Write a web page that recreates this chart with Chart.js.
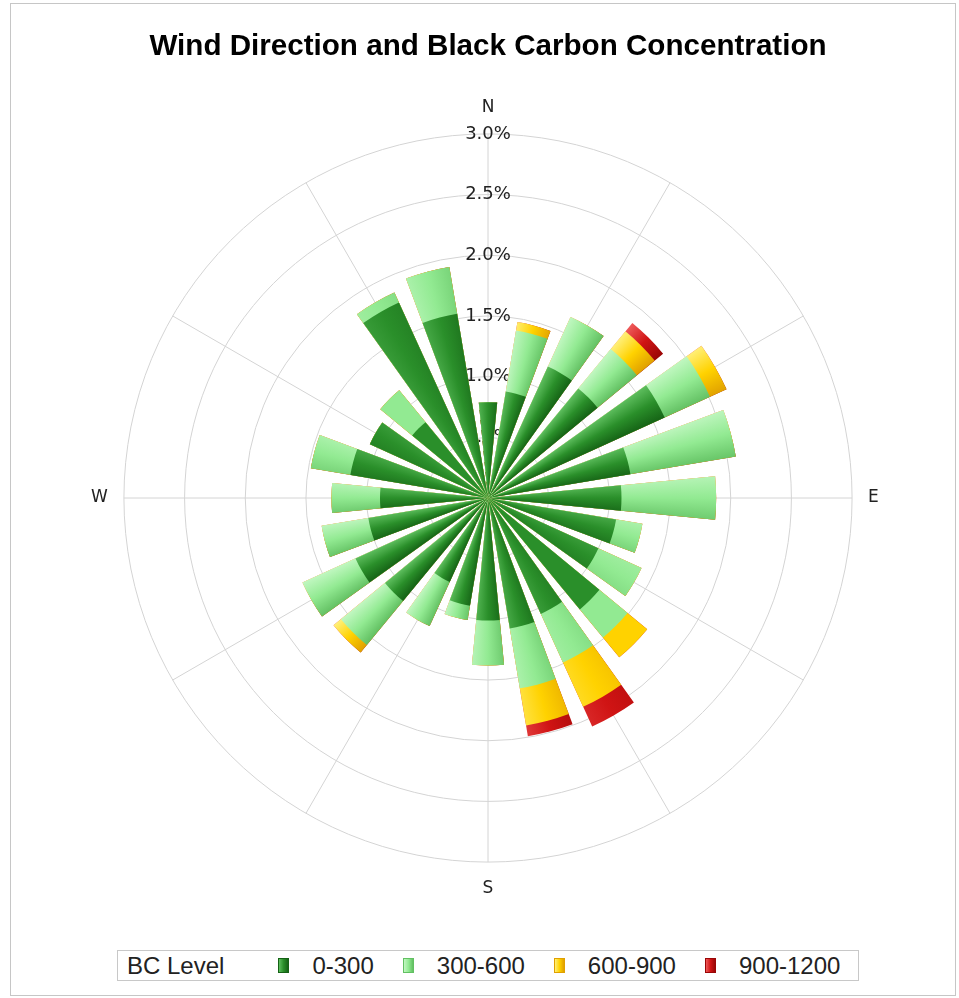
<!DOCTYPE html>
<html>
<head>
<meta charset="utf-8">
<title>Wind Direction and Black Carbon Concentration</title>
<script src="https://cdn.jsdelivr.net/npm/chart.js@4.4.1/dist/chart.umd.min.js"></script>
<style>
    html, body { margin: 0; padding: 0; background: #fff; }
    #wrap { position: relative; width: 959px; height: 998px; }
    #frame {
        position: absolute; left: 10px; top: 3px; width: 946px; height: 993px;
        box-sizing: border-box; border: 1px solid #c6c6c6; pointer-events: none;
    }
    #legend {
        position: absolute; left: 117px; top: 950px; height: 31px; box-sizing: border-box;
        display: flex; align-items: center; padding: 0 18px 0 9px;
        border: 1px solid #c8c8c8; background: #fff;
        font: 24px "Liberation Sans", Arial, sans-serif; color: #222; white-space: nowrap;
    }
    #legend .title { margin-right: 54px; }
    #legend .item { display: flex; align-items: center; margin-right: 29px; }
    #legend .item:last-child { margin-right: 0; }
    #legend .swatch { width: 11px; height: 15px; box-sizing: border-box; margin-right: 23px; border: 1px solid; }
</style>
</head>
<body>
<div id="wrap">
    <canvas id="windRose" width="959" height="998"></canvas>
    <div id="legend"></div>
    <div id="frame"></div>
</div>
<script>
/**
 * Wind directions (degrees clockwise from north), 15 degree sectors
 */
const directions = [0, 15, 30, 45, 60, 75, 90, 105, 120, 135, 150, 165,
                    180, 195, 210, 225, 240, 255, 270, 285, 300, 315, 330, 345];

/**
 * BC levels
 */
const levels = ['0-300', '300-600', '600-900', '900-1200'];

/**
 * Frequency (%) by direction, one array per BC level
 */
const bc0to300    = [0.79, 0.89, 1.19, 1.17, 1.60, 1.19, 1.10, 1.07, 1.00, 1.19, 1.05, 1.09,
                     1.01, 0.90, 0.76, 1.10, 1.20, 1.00, 0.89, 1.15, 1.07, 0.81, 1.77, 1.54];
const bc300to600  = [0.00, 0.51, 0.45, 0.42, 0.41, 0.88, 0.78, 0.22, 0.39, 0.30, 0.44, 0.50,
                     0.37, 0.12, 0.40, 0.47, 0.48, 0.39, 0.40, 0.33, 0.00, 0.34, 0.09, 0.39];
const bc600to900  = [0.00, 0.07, 0.00, 0.19, 0.15, 0.00, 0.00, 0.00, 0.00, 0.21, 0.40, 0.31,
                     0.00, 0.00, 0.00, 0.08, 0.00, 0.00, 0.00, 0.00, 0.00, 0.00, 0.00, 0.00];
const bc900to1200 = [0.00, 0.00, 0.00, 0.09, 0.00, 0.00, 0.00, 0.00, 0.00, 0.00, 0.18, 0.09,
                     0.00, 0.00, 0.00, 0.00, 0.00, 0.00, 0.00, 0.00, 0.00, 0.00, 0.00, 0.00];

/**
 * Radial ticks (%)
 */
const rTicks = [0, 0.5, 1.0, 1.5, 2.0, 2.5, 3.0];

/**
 * Spoke labels (every 30 degrees)
 */
const spokeLabels = ['N', '', '', 'E', '', '', 'S', '', '', 'W', '', ''];

/**
 * Colours per level
 */
const levelShades = [
    { base: '#2a8f2a', light: '#5fbf5f', dark: '#156215' },
    { base: '#92ea92', light: '#c2f7c2', dark: '#62c062' },
    { base: '#ffd200', light: '#fff07a', dark: '#e0a000' },
    { base: '#d01414', light: '#ee5a5a', dark: '#9a0606' }
];

const BAR = 11;              // bar width in degrees
const GAP = 15 - BAR;        // gap between bars

const levelValues = [bc0to300, bc300to600, bc600to900, bc900to1200];

// stack the levels: each dataset is drawn from the centre to its cumulative value
const stacked = levelValues.map((_, i) =>
    directions.map((d, k) => levelValues.slice(0, i + 1).reduce((s, arr) => s + arr[k], 0)));

// a bar then a gap for every direction, after a lead-in that centres bar 0 on north
function sectorData(values) {
    const out = [0];
    values.forEach(v => out.push(v, 0));
    return out;
}

function sectorAngle(ctx) {
    if (ctx.dataIndex === 0) return -BAR / 2;
    return ctx.dataIndex % 2 ? BAR : GAP;
}

function hex(c) {
    return [1, 3, 5].map(i => parseInt(c.substr(i, 2), 16));
}

function mix(a, b, t) {
    const x = hex(a), y = hex(b);
    return 'rgb(' + x.map((v, i) => Math.round(v + (y[i] - v) * t)).join(',') + ')';
}

/**
 * Sheen across each bar, lit from the top left
 */
function sheen(chart, shade) {
    const r = chart.scales.r;
    if (!r || !isFinite(r.xCenter) || !isFinite(r.yCenter)) return shade.base;
    const g = chart.ctx.createConicGradient((-90 - BAR / 2) * Math.PI / 180, r.xCenter, r.yCenter);
    directions.forEach((deg, k) => {
        const lit = Math.cos((deg - 90 - 315) * Math.PI / 180);
        const ccw = lit > 0 ? mix(shade.base, shade.light, lit) : mix(shade.base, shade.dark, -lit);
        const cw = lit > 0 ? mix(shade.base, shade.dark, lit) : mix(shade.base, shade.light, -lit);
        const s = k * 15 / 360, w = BAR / 360;
        g.addColorStop(s, ccw);
        g.addColorStop(s + w * 0.5, shade.base);
        g.addColorStop(s + w, cw);
    });
    return g;
}

const chart = new Chart(document.getElementById('windRose'), {
    type: 'polarArea',

    data: {
        labels: spokeLabels,
        datasets: levels.map((label, i) => ({
            label: label,
            data: sectorData(stacked[i]),
            angle: sectorAngle,
            borderWidth: 0,
            backgroundColor: ctx => sheen(ctx.chart, levelShades[i])
        }))
    },

    options: {
        responsive: false,
        animation: false,
        layout: { padding: { top: 0, left: 45, right: 28, bottom: 98 } },
        plugins: {
            legend: { display: false },
            tooltip: { enabled: false },
            title: {
                display: true,
                text: 'Wind Direction and Black Carbon Concentration',
                color: '#000',
                font: { family: 'Liberation Sans', size: 29.6, weight: 'bold' },
                padding: { top: 29, bottom: 33 }
            }
        },
        scales: {
            r: {
                min: rTicks[0],
                max: rTicks[rTicks.length - 1],
                startAngle: 0,
                ticks: {
                    stepSize: rTicks[1] - rTicks[0],
                    showLabelBackdrop: false,
                    color: '#222',
                    font: { family: 'DejaVu Sans', size: 18 },
                    callback: v => v.toFixed(1) + '%'
                },
                grid: { circular: true, color: '#d4d4d4', lineWidth: 1 },
                angleLines: { display: true, color: '#d4d4d4', lineWidth: 1 },
                pointLabels: {
                    display: true,
                    padding: 5,
                    color: '#222',
                    font: { family: 'DejaVu Sans', size: 17 }
                }
            }
        }
    }
});

/**
 * Legend
 */
const legend = document.getElementById('legend');
legend.innerHTML = '<span class="title">BC Level</span>' + chart.data.datasets.map((ds, i) => {
    const s = levelShades[i];
    return '<span class="item"><span class="swatch" style="border-color:' + s.dark +
        ';background:linear-gradient(to right,' + s.light + ',' + s.base + ' 50%,' + s.dark + ')"></span>' +
        ds.label + '</span>';
}).join('');
</script>
</body>
</html>
